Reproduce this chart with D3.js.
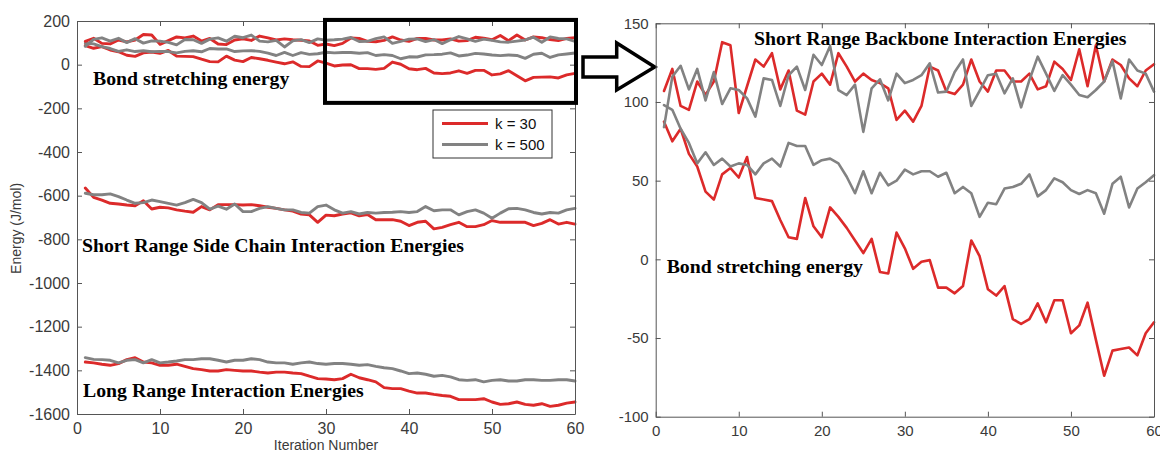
<!DOCTYPE html>
<html>
<head>
<meta charset="utf-8">
<script src="https://cdn.jsdelivr.net/npm/d3@7"></script>
<style>
  html, body { margin: 0; padding: 0; background: #fff; }
  svg { display: block; }
  .tick text { font-family: Arial, "Liberation Sans", sans-serif; fill: #3a3a3a; }
  .domain, .tick line { stroke: #555; }
</style>
</head>
<body>
<svg id="chart" width="1160" height="452"></svg>
<script>
// Iteration index (x axis)
const iterations = d3.range(1, 61);

// Bond stretching energy (J/mol)
const bondK30 = [87.5, 75, 83, 67, 59, 43, 38, 54, 58, 52,
  65, 39, 38, 37, 25, 14, 13, 39, 21, 14,
  33, 27, 20, 12, 4, 13, -8, -9, 17, 7,
  -6, -1.5, -0.5, -18, -18, -21.6, -17, 12, 2, -19,
  -23, -17, -38, -41, -38, -28, -40, -26, -26, -47,
  -42, -27.5, -51, -74, -58, -57, -56, -61, -47, -40];
const bondK500 = [98, 95, 83, 74, 61, 68, 60, 64, 59, 61,
  60, 54, 61, 64, 59, 74, 72, 72, 60, 63,
  64, 61, 52.5, 42, 56, 42, 55, 47, 50, 57,
  54, 56, 56, 52.5, 55, 42, 46, 42, 27, 36,
  35, 45, 46, 48, 54, 40, 44, 51.5, 49, 44,
  41.5, 44, 42, 29, 48, 52.5, 33, 45, 49, 53.5];

// Short range backbone interaction energies (J/mol)
const backboneK30 = [107, 121, 97.5, 95, 113, 104.5, 113, 138, 136, 93,
  110, 127, 122.5, 131, 108, 120, 94.5, 92, 113, 118,
  111, 131, 122.5, 113, 118, 114, 112, 108.7, 88.6, 94.5,
  87.5, 97.5, 122.5, 120, 106.6, 105, 111, 127, 113, 106.6,
  120, 120, 113, 113, 118, 108, 110, 125.6, 121, 114,
  133.5, 110, 136, 113, 127, 123.5, 115, 110, 120, 124];
const backboneK500 = [84, 116, 123, 108, 121, 101, 119, 98.7, 108.7, 107.6,
  102.3, 90.7, 115, 114, 97.5, 117, 122.5, 107.6, 130, 123.5,
  135.6, 107.6, 104.4, 111, 81, 108.7, 114.4, 101, 118, 112,
  114, 117, 124.6, 106, 106.6, 119, 127, 97.5, 107, 117,
  118, 105.5, 115, 96.6, 114, 128.8, 118, 107, 117, 111,
  104.4, 103, 107.6, 113, 126, 102.3, 127, 120, 118, 106.6];

// Short range side chain interaction energies (J/mol)
const sideChainK30 = [-565, -608, -620, -635, -638, -643, -646, -623, -661, -653,
  -656, -665, -671, -676, -650, -665, -641, -641, -641, -643,
  -641, -646, -653, -658, -665, -671, -684, -688, -722, -689,
  -692, -684, -679, -692, -686, -710, -710, -710, -717, -737,
  -722, -717, -752, -745, -733, -722, -742, -742, -733, -714,
  -722, -722, -722, -722, -737, -727, -710, -730, -722, -730];
const sideChainK500 = [-589, -596, -596, -592, -604, -620, -635, -632, -620, -627,
  -635, -643, -632, -617, -632, -662, -648, -662, -638, -673,
  -673, -658, -650, -658, -665, -665, -677, -680, -650, -643,
  -665, -680, -673, -684, -677, -680, -677, -676, -673, -677,
  -673, -650, -669, -665, -665, -688, -673, -665, -680, -703,
  -680, -660, -658, -665, -677, -684, -677, -680, -665, -658];

// Long range interaction energies (J/mol)
const longRangeK30 = [-1362, -1366, -1372, -1377, -1369, -1351, -1342, -1362, -1366, -1377,
  -1377, -1372, -1382, -1392, -1397, -1403, -1403, -1397, -1400, -1403,
  -1403, -1408, -1412, -1408, -1408, -1412, -1415, -1427, -1438, -1440,
  -1443, -1438, -1418, -1434, -1443, -1453, -1479, -1484, -1484, -1495,
  -1504, -1504, -1510, -1515, -1519, -1534, -1534, -1534, -1530, -1545,
  -1556, -1553, -1545, -1556, -1560, -1553, -1565, -1560, -1550, -1545];
const longRangeK500 = [-1342, -1350, -1351, -1354, -1366, -1354, -1351, -1366, -1351, -1366,
  -1362, -1357, -1351, -1351, -1347, -1347, -1354, -1362, -1354, -1354,
  -1347, -1351, -1362, -1366, -1366, -1372, -1366, -1362, -1369, -1372,
  -1369, -1369, -1372, -1377, -1374, -1382, -1388, -1392, -1403, -1415,
  -1412, -1418, -1427, -1423, -1430, -1443, -1446, -1443, -1453, -1446,
  -1443, -1449, -1449, -1443, -1443, -1446, -1446, -1443, -1443, -1449];

// Tick values
const xTicks = [0, 10, 20, 30, 40, 50, 60];
const leftYTicks = [-1600, -1400, -1200, -1000, -800, -600, -400, -200, 0, 200];
const rightYTicks = [-100, -50, 0, 50, 100, 150];

// Legend entries
const legendLabels = ["k = 30", "k = 500"];
// Region of the overview that is expanded in the detail panel
const zoomRegionX = [30, 60];
const zoomRegionY = [-175, 205];

const RED = "#dc2a2a";
const GRAY = "#828282";
const plain = d => String(d);

const svg = d3.select("#chart");
svg.append("rect").attr("width", 1160).attr("height", 452).attr("fill", "#fff");

const xL = d3.scaleLinear([0, 60], [77, 575]);
const yL = d3.scaleLinear([-1600, 200], [414, 21]);
const xR = d3.scaleLinear([0, 60], [655.7, 1154]);
const yR = d3.scaleLinear([-100, 150], [416.7, 23.3]);

function frame(g, x, y, yTicks, fontSize) {
  const [x0, x1] = x.range();
  const [y1, y0] = y.range();
  g.append("g").attr("transform", `translate(0,${y1})`)
    .call(d3.axisBottom(x).tickValues(xTicks).tickFormat(plain).tickSize(-5).tickSizeOuter(0).tickPadding(9))
    .call(a => a.selectAll("text").attr("font-size", fontSize));
  g.append("g").attr("transform", `translate(0,${y0})`)
    .call(d3.axisTop(x).tickValues(xTicks).tickSize(-5).tickSizeOuter(0).tickFormat(""));
  g.append("g").attr("transform", `translate(${x0},0)`)
    .call(d3.axisLeft(y).tickValues(yTicks).tickFormat(plain).tickSize(-5).tickSizeOuter(0).tickPadding(7))
    .call(a => a.selectAll("text").attr("font-size", fontSize));
  g.append("g").attr("transform", `translate(${x1},0)`)
    .call(d3.axisRight(y).tickValues(yTicks).tickSize(-5).tickSizeOuter(0).tickFormat(""));
}

function series(g, x, y, values, color, width) {
  const line = d3.line().x((d, i) => x(iterations[i])).y(d => y(d));
  g.append("path").datum(values)
    .attr("d", line)
    .attr("fill", "none")
    .attr("stroke", color)
    .attr("stroke-width", width)
    .attr("stroke-linejoin", "round")
    .attr("stroke-linecap", "round");
}

function label(g, x, y, text) {
  g.append("text")
    .attr("x", x).attr("y", y)
    .attr("font-family", "'Liberation Serif', 'Times New Roman', serif")
    .attr("font-weight", "bold")
    .attr("font-size", 19.8)
    .attr("fill", "#000")
    .text(text);
}

// ---- Overview panel ----
const left = svg.append("g");
[[bondK30, bondK500], [backboneK30, backboneK500], [sideChainK30, sideChainK500], [longRangeK30, longRangeK500]]
  .forEach(([a, b]) => {
    series(left, xL, yL, a, RED, 2.9);
    series(left, xL, yL, b, GRAY, 2.9);
  });
frame(left, xL, yL, leftYTicks, 16);

label(left, xL(1.93), yL(-93), "Bond stretching energy");
label(left, xL(0.6), yL(-857), "Short Range Side Chain Interaction Energies");
label(left, xL(0.72), yL(-1522), "Long Range Interaction Energies");

left.append("text")
  .attr("transform", `translate(21,${yL(-750)}) rotate(-90)`)
  .attr("text-anchor", "middle")
  .attr("font-family", "Arial, 'Liberation Sans', sans-serif")
  .attr("font-size", 14).attr("fill", "#3a3a3a")
  .text("Energy (J/mol)");
left.append("text")
  .attr("x", xL(30)).attr("y", 450)
  .attr("text-anchor", "middle")
  .attr("font-family", "Arial, 'Liberation Sans', sans-serif")
  .attr("font-size", 14).attr("fill", "#3a3a3a")
  .text("Iteration Number");

// Legend
const lg = left.append("g").attr("transform", "translate(433,110)");
lg.append("rect").attr("width", 119).attr("height", 48)
  .attr("fill", "#fff").attr("stroke", "#333").attr("stroke-width", 1);
legendLabels.forEach((t, i) => {
  const yy = 13.5 + i * 21;
  lg.append("line").attr("x1", 9).attr("x2", 55).attr("y1", yy).attr("y2", yy)
    .attr("stroke", i === 0 ? RED : GRAY).attr("stroke-width", 2.8);
  lg.append("text").attr("x", 62).attr("y", yy + 5.5)
    .attr("font-family", "Arial, 'Liberation Sans', sans-serif")
    .attr("font-size", 15).attr("fill", "#111").text(t);
});

// Highlight box around the expanded region
left.append("rect")
  .attr("x", xL(zoomRegionX[0]) - 1)
  .attr("y", yL(zoomRegionY[1]))
  .attr("width", xL(zoomRegionX[1]) - xL(zoomRegionX[0]) + 2)
  .attr("height", yL(zoomRegionY[0]) - yL(zoomRegionY[1]))
  .attr("fill", "none").attr("stroke", "#000").attr("stroke-width", 4);

// Arrow pointing to the detail panel
const ax0 = xL.range()[1] + 8, ax1 = xR.range()[0] - 1, ah = ax1 - 38, ay = 67;
svg.append("path")
  .attr("d", `M${ax0},${ay - 10} L${ah},${ay - 10} L${ah},${ay - 24} L${ax1},${ay} L${ah},${ay + 23} L${ah},${ay + 10} L${ax0},${ay + 10} Z`)
  .attr("fill", "#fff").attr("stroke", "#000").attr("stroke-width", 3.5)
  .attr("stroke-linejoin", "miter");

// ---- Detail panel ----
const right = svg.append("g");
series(right, xR, yR, bondK30, RED, 2.6);
series(right, xR, yR, backboneK30, RED, 2.6);
series(right, xR, yR, bondK500, GRAY, 2.6);
series(right, xR, yR, backboneK500, GRAY, 2.6);
frame(right, xR, yR, rightYTicks, 15);

label(right, xR(11.84), yR(136.2), "Short Range Backbone Interaction Energies");
label(right, xR(1.32), yR(-8.5), "Bond stretching energy");
</script>
</body>
</html>
